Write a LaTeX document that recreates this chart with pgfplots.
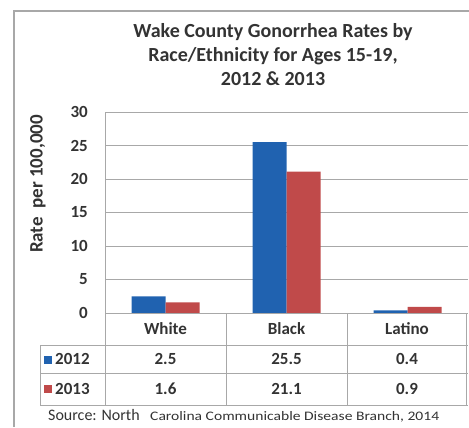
\documentclass[border=0pt]{standalone}
\usepackage{pgfplots}
\pgfplotsset{compat=1.18}
\usepackage{fontspec}
\setmainfont{Carlito}
\newfontfamily\srcfont[FakeStretch=1.2]{Carlito}
\definecolor{bblue}{HTML}{2062B0}
\definecolor{bred}{HTML}{C04A4A}
\definecolor{txt}{HTML}{333333}
\definecolor{ln}{HTML}{A8A8A8}
\begin{document}
\begin{tikzpicture}[x=1bp,y=1bp]
\useasboundingbox (0,0) rectangle (469,427);
\draw[ln, line width=1.4bp] (14,0) -- (14,416) -- (469,416);
\node[txt, font=\fontsize{20bp}{24bp}\selectfont\bfseries, align=center] at (273,372) {Wake County Gonorrhea Rates by\\Race/Ethnicity for Ages 15-19,\\2012 \& 2013};
\node[txt, rotate=90, font=\fontsize{19bp}{22bp}\selectfont\bfseries] at (38,243) {Rate\ \ per 100,000};
\begin{axis}[at={(105bp,114bp)}, anchor=south west, scale only axis,
  width=363bp, height=201bp,
  xmin=-0.5, xmax=2.5, ymin=0, ymax=30,
  ytick={0,5,...,30}, xtick=\empty,
  axis line style={draw=none},
  major tick length=0pt,
  ymajorgrids, grid style={ln, line width=0.9bp},
  yticklabel style={anchor=east, inner sep=0pt, xshift=-17bp, font=\fontsize{17bp}{20bp}\selectfont\bfseries, text=txt},
  /pgf/number format/assume math mode=true,
  ybar=0pt, bar width=34bp, clip=false]
\addplot[fill=bblue, draw=none] coordinates {(0,2.5) (1,25.5) (2,0.4)};
\addplot[fill=bred, draw=none] coordinates {(0,1.6) (1,21.1) (2,0.9)};
\end{axis}
% data table grid
\draw[ln, line width=1bp] (105,114) -- (468,114);
\draw[ln, line width=1bp] (40,82) -- (468,82);
\draw[ln, line width=1bp] (40,54) -- (468,54);
\draw[ln, line width=1bp] (40,22) -- (468,22);
\draw[ln, line width=1bp] (40,82) -- (40,22);
\draw[ln, line width=1bp] (105,315) -- (105,22);
\draw[ln, line width=1bp] (226,114) -- (226,22);
\draw[ln, line width=1bp] (347,114) -- (347,22);
\draw[ln, line width=1bp] (466,114) -- (466,22);
\begin{scope}[every node/.style={txt, font=\fontsize{17bp}{20bp}\selectfont\bfseries}]
\node at (165.5,98) {White};
\node at (286.5,98) {Black};
\node at (407,98) {Latino};
\fill[bblue] (44,63.5) rectangle (52,71.5);
\node[anchor=west, inner sep=0pt] at (55,68) {2012};
\fill[bred] (44,34) rectangle (52,42);
\node[anchor=west, inner sep=0pt] at (55,38) {2013};
\node at (165.5,68) {2.5};
\node at (286.5,68) {25.5};
\node at (407,68) {0.4};
\node at (165.5,38) {1.6};
\node at (286.5,38) {21.1};
\node at (407,38) {0.9};
\end{scope}
\node[txt, anchor=base west, inner sep=0pt] at (48,7) {\fontsize{16bp}{18bp}\selectfont Source: North};
\node[txt, anchor=base west, inner sep=0pt] at (150,7) {\srcfont\fontsize{13bp}{16bp}\selectfont Carolina Communicable Disease Branch, 2014};
\end{tikzpicture}
\end{document}
